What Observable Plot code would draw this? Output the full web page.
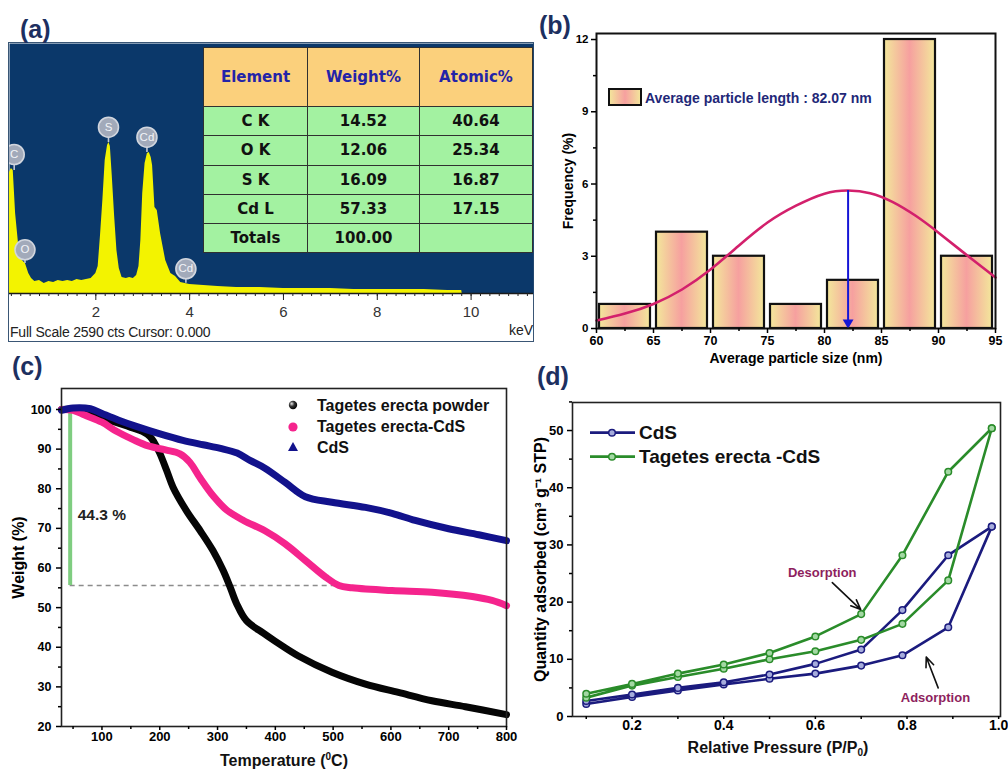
<!DOCTYPE html>
<html><head><meta charset="utf-8">
<script src="https://cdn.jsdelivr.net/npm/d3@7"></script>
<script src="https://cdn.jsdelivr.net/npm/@observablehq/plot@0.6"></script>
<style>
html,body{margin:0;padding:0;background:#fff;}
#root{position:relative;width:1008px;height:771px;overflow:hidden;background:#fff;font-family:"Liberation Sans",Arial,Helvetica,sans-serif;}
.pl{position:absolute;font-weight:bold;font-size:25px;line-height:25px;color:#1d2f60;white-space:nowrap;}
.lbl{position:absolute;font-weight:bold;white-space:nowrap;transform:translate(-50%,-50%);color:#111;}
</style></head><body><div id="root"></div><script>
// ================= DATA =================
// (a) EDS spectrum
const edsKeV = [0.16,0.2,0.24,0.29,0.36,0.43,0.5,0.57,0.63,0.7,0.8,0.9,1.0,1.1,1.2,1.3,1.4,1.5,1.6,1.7,1.8,1.9,2.0,2.05,2.1,2.15,2.2,2.25,2.28,2.31,2.35,2.4,2.45,2.5,2.56,2.65,2.72,2.8,2.87,2.92,2.96,3.0,3.05,3.1,3.14,3.18,3.21,3.26,3.31,3.38,3.49,3.6,3.7,3.81,4.0,4.3,4.6,5.0,5.5,6.0,6.5,7.0,7.5,8.0,8.5,9.0,9.5,9.8,9.81];
const edsCounts = [1254,1295,1274,829,477,342,311,207,155,124,135,104,124,114,135,124,135,124,145,135,145,155,207,280,601,963,1378,1533,1564,1523,1222,808,445,259,166,155,166,155,186,280,549,1036,1347,1450,1461,1409,1326,891,860,622,342,207,176,114,93,83,73,62,62,52,52,52,41,41,41,41,31,31,0];
const edsFullScale = 2590;
const edsMajorTicks = [2,4,6,8,10];
const peakNames = ["C","O","S","Cd","Cd"];
const peakKeV = [0.26,0.49,2.27,3.09,3.92];
const peakLabelCounts = [1440,453,1723,1619,256];
const peakTopCounts = [1274,311,1564,1461,107];
const tableHeader = ["Element","Weight%","Atomic%"];
const tableElements = ["C K","O K","S K","Cd L","Totals"];
const tableWeight = ["14.52","12.06","16.09","57.33","100.00"];
const tableAtomic = ["40.64","25.34","16.87","17.15",""];

// (b) particle size histogram
const binStart = [60,65,70,75,80,85,90];
const binEnd = [65,70,75,80,85,90,95];
const binFreq = [1,4,3,1,2,12,3];
const fitSize = [60,62.5,65,67.5,70,72.5,75,77.5,80,82.07,84,86,88,90,92.5,95];
const fitFreq = [0.33,0.62,1.02,1.62,2.45,3.45,4.4,5.1,5.6,5.73,5.62,5.25,4.68,3.98,3.04,2.12];
const meanSize = 82.07, meanFreq = 5.73;
const sizeTicks = [60,65,70,75,80,85,90,95];
const freqTicks = [0,3,6,9,12];
const legendB = "Average particle length : 82.07 nm";

// (c) TGA
const tempPowder = [30,50,80,100,130,150,170,183,190,200,212,223,246,270,292,310,322,333,350,380,400,440,498,556,613,671,729,800];
const weightPowder = [100,100,99.3,98.0,96.5,95.5,94.5,93.2,91.8,89,84.6,80.4,74.5,69.4,64.4,59.3,55.1,51,46.7,43.5,41.5,37.8,33.7,30.7,28.6,26.5,25.0,23.0];
const tempTECdS = [30,50,70,100,125,154,180,210,235,252,270,293,316,345,382,417,452,487,510,533,602,671,741,775,800];
const weightTECdS = [100,99.8,98.6,96.8,94.5,92.4,90.8,89.8,88.8,86.7,82.7,78.1,74.6,72.0,69.4,66.1,61.9,57.7,55.6,55.0,54.3,53.9,52.8,51.8,50.5];
const tempCdS = [30,50,80,100,129,158,199,240,275,305,334,357,382,417,452,498,556,602,642,700,752,800];
const weightCdS = [99.8,100.4,100.2,99.0,97.3,95.8,93.9,92.2,91.1,90.2,89.0,87.1,85.2,81.6,78.0,76.6,75.3,73.8,72.0,69.9,68.4,66.9];
const seriesNamesC = ["Tagetes erecta powder","Tagetes erecta-CdS","CdS"];
const seriesColorsC = ["#050505","#f5248d","#12128c"];
const lossTemp = 45, lossTop = 99.4, lossLevel = 55.6, lossLineEnd = 521;
const lossLabel = "44.3 %", lossLabelTemp = 58, lossLabelWeight = 73.3;
const tempTicks = [100,200,300,400,500,600,700,800];
const weightTicks = [20,30,40,50,60,70,80,90,100];

// (d) N2 isotherms
const pressure = [0.1,0.2,0.3,0.4,0.5,0.6,0.7,0.79,0.89,0.985];
const cdsAds = [2.2,3.4,4.55,5.6,6.6,7.5,8.9,10.7,15.6,33.2];
const cdsDes = [2.7,3.85,5.0,6.0,7.35,9.2,11.7,18.6,28.2,33.2];
const teAds = [3.3,5.4,6.9,8.35,10.0,11.4,13.4,16.2,23.8,50.4];
const teDes = [3.97,5.7,7.5,9.1,11.1,14.0,17.9,28.2,42.8,50.4];
const seriesNamesD = ["CdS","Tagetes erecta -CdS"];
const seriesColorsD = ["#1b1b7e","#2a8c2a"];
const markerFillD = ["#a6acdc","#a3d8a3"];
const pTicks = [0.2,0.4,0.6,0.8,1.0];
const qTicks = [0,10,20,30,40,50];
const desLabel = {p:0.615, q:25.2, text:"Desorption"};
const desArrow = {p1:0.637, q1:23.4, p2:0.699, q2:18.7};
const adsLabel = {p:0.862, q:3.2, text:"Adsorption"};
const adsArrow = {p1:0.868, q1:5.0, p2:0.842, q2:10.4};

// ================= LAYOUT HELPERS =================
const FONT = '"Liberation Sans", Arial, Helvetica, sans-serif';
const root = document.getElementById("root");
function place(el, left, top) {
  el.style.position = "absolute"; el.style.left = left + "px"; el.style.top = top + "px";
  root.appendChild(el); return el;
}
function fixSvg(svg) {
  svg.style.background = "transparent"; svg.style.overflow = "visible";
  svg.style.maxWidth = "none"; svg.style.fontFamily = FONT; svg.style.display = "block";
  return svg;
}
function html(content, left, top, cls, css) {
  const d = document.createElement("div"); d.className = cls || ""; d.innerHTML = content;
  if (css) d.style.cssText = css; return place(d, left, top);
}
const minor = (a, b, step) => d3.range(a, b + 1e-9, step);
const yTitle = (t, dx, size) => Plot.text([t], {frameAnchor: "left", textAnchor: "middle", lineAnchor: "middle", rotate: -90, dx, fontSize: size, fontWeight: "bold"});
const xTitle = (t, dy, size) => Plot.text([t], {frameAnchor: "bottom", textAnchor: "middle", lineAnchor: "middle", dy, fontSize: size, fontWeight: "bold"});

// ================= (a) =================
const edsData = edsKeV.map((k, i) => ({k, c: edsCounts[i]}));
const peaks = peakNames.map((n, i) => ({n, k: peakKeV[i], l: peakLabelCounts[i], t: peakTopCounts[i]}));
const plotA = fixSvg(Plot.plot({
  width: 524, height: 298, marginTop: 0, marginLeft: 0, marginRight: 0, marginBottom: 48,
  x: {domain: [0.16, 11.33]}, y: {domain: [0, edsFullScale], axis: null},
  marks: [
    Plot.frame({fill: "#0b386a", stroke: null}),
    Plot.areaY(edsData, {x: "k", y: "c", fill: "#f3f300"}),
    Plot.ruleX(peaks, {x: "k", y1: "l", y2: "t", stroke: "#c3c9d6", strokeWidth: 1.6}),
    Plot.dot(peaks, {x: "k", y: "l", r: 10, fill: "#a2aaba", stroke: "#d2d6de", strokeWidth: 1.6, clip: true}),
    Plot.text(peaks, {x: "k", y: "l", text: "n", fill: "#f2f4f8", fontSize: 11.5, clip: true}),
    Plot.ruleY([0], {stroke: "#1a1a1a", strokeWidth: 1.5}),
    Plot.axisX(minor(0.2, 11.2, 0.2), {tickSize: 3, tickFormat: () => "", label: null, stroke: "#222"}),
    Plot.axisX(edsMajorTicks, {tickSize: 7, tickPadding: 6, fontSize: 15, fill: "#333", label: null, stroke: "#222"})
  ]
}));
const boxA = document.createElement("div");
boxA.style.cssText = "width:524px;height:298px;border:1px solid #3a5675;";
boxA.appendChild(plotA);
place(boxA, 8, 42);
html("Full Scale 2590 cts Cursor: 0.000", 10, 324, "", "font-size:14px;line-height:16px;color:#222;white-space:nowrap;letter-spacing:-0.2px;");
html("keV", 509, 322, "", "font-size:14px;line-height:16px;color:#222;");

// table
const tbl = document.createElement("table");
tbl.style.cssText = `width:329px;height:206px;border-collapse:collapse;table-layout:fixed;font-family:"DejaVu Sans",Verdana,sans-serif;font-weight:bold;font-size:15px;`;
let th = `<colgroup><col style="width:104px"><col style="width:112px"><col style="width:113px"></colgroup>`;
th += `<tr style="height:59px;background:#fbd07c;color:#2424a8">` + tableHeader.map(h => `<td style="border:1.5px solid #303030;text-align:center;padding:0">${h}</td>`).join("") + `</tr>`;
tableElements.forEach((e, i) => {
  th += `<tr style="height:29px;background:#a3f2a1;color:#111">` + [e, tableWeight[i], tableAtomic[i]].map(v => `<td style="border:1.5px solid #303030;text-align:center;padding:0">${v}</td>`).join("") + `</tr>`;
});
tbl.innerHTML = th;
place(tbl, 203, 47);

// ================= (b) =================
const bins = binStart.map((a, i) => ({a, b: binEnd[i], f: binFreq[i]}));
const fit = fitSize.map((x, i) => ({x, y: fitFreq[i]}));
const GRAD_SENTINEL = "#abcdef";
const plotB = fixSvg(Plot.plot({
  width: 468, height: 372, marginLeft: 56, marginRight: 13, marginTop: 33, marginBottom: 44,
  x: {domain: [60, 95]}, y: {domain: [0, 12.25]},
  style: {fontWeight: "bold"},
  marks: [
    Plot.rectY(bins, {x1: "a", x2: "b", y: "f", fill: GRAD_SENTINEL, stroke: "#111", strokeWidth: 2.2, insetLeft: 3, insetRight: 3}),
    Plot.line(fit, {x: "x", y: "y", curve: "natural", stroke: "#d3206c", strokeWidth: 2.6}),
    Plot.ruleX([meanSize], {y1: meanFreq, y2: 0.3, stroke: "#1515d6", strokeWidth: 2}),
    Plot.dot([meanSize], {x: d => d, y: 0, symbol: "triangle", r: 4, rotate: 180, fill: "#1515d6", stroke: null, dy: -6}),
    Plot.frame({stroke: "#111", strokeWidth: 2}),
    Plot.axisY(freqTicks, {tickSize: 5, tickPadding: 3, fontSize: 11.5, fontWeight: "bold", label: null, strokeWidth: 1.5}),
    Plot.axisY(minor(1.5, 10.5, 3), {tickSize: 3, tickFormat: () => "", label: null, strokeWidth: 1.5}),
    Plot.axisX(sizeTicks, {tickSize: 5, tickPadding: 3, fontSize: 12.5, fontWeight: "bold", label: null, strokeWidth: 1.5}),
    Plot.axisX(minor(62.5, 92.5, 5), {tickSize: 3, tickFormat: () => "", label: null, strokeWidth: 1.5}),
    yTitle("Frequency (%)", -28, 14),
    xTitle("Average particle size (nm)", 30, 14)
  ]
}));
const gradEdge = "#f3e79b", gradMid = "#f6a09f";
const defsB = document.createElementNS("http://www.w3.org/2000/svg", "defs");
defsB.innerHTML = `<linearGradient id="barGrad" x1="0" x2="1" y1="0" y2="0"><stop offset="0" stop-color="${gradEdge}"/><stop offset="0.5" stop-color="${gradMid}"/><stop offset="1" stop-color="${gradEdge}"/></linearGradient>`;
plotB.insertBefore(defsB, plotB.firstChild);
plotB.querySelectorAll(`[fill="${GRAD_SENTINEL}"]`).forEach(el => el.setAttribute("fill", "url(#barGrad)"));
place(plotB, 540, 0);

// ================= (c) =================
const mk = (xs, ys) => xs.map((x, i) => ({x, y: ys[i]}));
const plotC = fixSvg(Plot.plot({
  width: 520, height: 401, marginLeft: 61, marginRight: 14, marginTop: 18, marginBottom: 45,
  x: {domain: [30, 800]}, y: {domain: [20, 105.3]},
  style: {fontWeight: "bold"},
  marks: [
    Plot.ruleY([lossLevel], {x1: lossTemp, x2: lossLineEnd, stroke: "#8c8c8c", strokeDasharray: "5,4", strokeWidth: 1.4}),
    Plot.ruleX([lossTemp], {y1: lossLevel, y2: lossTop, stroke: "#7fcd80", strokeWidth: 4}),
    Plot.line(mk(tempPowder, weightPowder), {x: "x", y: "y", curve: "catmull-rom", stroke: seriesColorsC[0], strokeWidth: 7}),
    Plot.line(mk(tempTECdS, weightTECdS), {x: "x", y: "y", curve: "catmull-rom", stroke: seriesColorsC[1], strokeWidth: 7}),
    Plot.line(mk(tempCdS, weightCdS), {x: "x", y: "y", curve: "catmull-rom", stroke: seriesColorsC[2], strokeWidth: 7}),
    Plot.text([lossLabel], {x: lossLabelTemp, y: lossLabelWeight, textAnchor: "start", fontSize: 15.5, fontWeight: "bold", fill: "#222"}),
    Plot.frame({stroke: "#222", strokeWidth: 1.6}),
    Plot.axisY(weightTicks, {tickSize: 5, tickPadding: 5, fontSize: 12.5, fontWeight: "bold", label: null, strokeWidth: 1.5}),
    Plot.axisY(minor(25, 95, 10), {tickSize: 3, tickFormat: () => "", label: null, strokeWidth: 1.5}),
    Plot.axisX(tempTicks, {tickSize: 4, tickPadding: 1, fontSize: 13, fontWeight: "bold", label: null, strokeWidth: 1.5}),
    Plot.axisX(minor(50, 750, 100), {tickSize: 3, tickFormat: () => "", label: null, strokeWidth: 1.5}),
    yTitle("Weight (%)", -43, 16)
  ]
}));
place(plotC, 0, 370);
html("Temperature (<sup style='font-size:10px;vertical-align:6px'>0</sup>C)", 284, 760, "lbl", "font-size:16px;");

// ================= (d) =================
const loop = (ads, des) => pressure.map((p, i) => ({p, q: ads[i]})).concat(pressure.slice().reverse().map((p, i) => ({p, q: des[des.length - 1 - i]})));
const loopCdS = loop(cdsAds, cdsDes), loopTE = loop(teAds, teDes);
const plotD = fixSvg(Plot.plot({
  width: 488, height: 411, marginLeft: 52, marginRight: 8, marginTop: 42, marginBottom: 55,
  x: {domain: [0.07, 1.004]}, y: {domain: [0, 54.9]},
  style: {fontWeight: "bold"},
  marks: [
    Plot.line(loopCdS, {x: "p", y: "q", stroke: seriesColorsD[0], strokeWidth: 2.6}),
    Plot.line(loopTE, {x: "p", y: "q", stroke: seriesColorsD[1], strokeWidth: 2.6}),
    Plot.dot(loopCdS, {x: "p", y: "q", r: 3.3, fill: markerFillD[0], stroke: seriesColorsD[0], strokeWidth: 1.5}),
    Plot.dot(loopTE, {x: "p", y: "q", r: 3.3, fill: markerFillD[1], stroke: seriesColorsD[1], strokeWidth: 1.5}),
    Plot.text([desLabel.text], {x: desLabel.p, y: desLabel.q, fill: "#8e1f5e", fontSize: 13, fontWeight: "bold"}),
    Plot.text([adsLabel.text], {x: adsLabel.p, y: adsLabel.q, fill: "#8e1f5e", fontSize: 13, fontWeight: "bold"}),
    Plot.arrow([desArrow], {x1: "p1", y1: "q1", x2: "p2", y2: "q2", stroke: "#111", strokeWidth: 1.6, headLength: 10, headAngle: 45}),
    Plot.arrow([adsArrow], {x1: "p1", y1: "q1", x2: "p2", y2: "q2", stroke: "#111", strokeWidth: 1.6, headLength: 10, headAngle: 45}),
    Plot.frame({stroke: "#222", strokeWidth: 1.6}),
    Plot.axisY(qTicks, {tickSize: 5, tickPadding: 4, fontSize: 13, fontWeight: "bold", label: null, strokeWidth: 1.5}),
    Plot.axisY(minor(5, 55, 10), {tickSize: 3, tickFormat: () => "", label: null, strokeWidth: 1.5}),
    Plot.axisX(pTicks, {tickSize: 3, tickPadding: 1, fontSize: 14, fontWeight: "bold", label: null, strokeWidth: 1.5, tickFormat: d3.format(".1f")}),
    Plot.axisX(minor(0.1, 0.9, 0.2), {tickSize: 3, tickFormat: () => "", label: null, strokeWidth: 1.5}),
    yTitle("Quantity adsorbed (cm³ g⁻¹ STP)", -32, 16)
  ]
}));
place(plotD, 520, 360);
html("Relative Pressure (P/P<sub style='font-size:10px;vertical-align:-3px'>0</sub>)", 778, 748, "lbl", "font-size:16px;");

// ================= overlay: legends =================
const ov = `<svg xmlns="http://www.w3.org/2000/svg" width="1008" height="771" style="position:absolute;left:0;top:0;overflow:visible;pointer-events:none;font-family:${FONT.replace(/"/g, "'")};font-weight:bold">
<defs>
<linearGradient id="swGrad" x1="0" x2="1" y1="0" y2="0"><stop offset="0" stop-color="${gradEdge}"/><stop offset="0.5" stop-color="${gradMid}"/><stop offset="1" stop-color="${gradEdge}"/></linearGradient>
<radialGradient id="sphere" cx="0.35" cy="0.35" r="0.7"><stop offset="0" stop-color="#e8e8e8"/><stop offset="0.45" stop-color="#333"/><stop offset="1" stop-color="#000"/></radialGradient>
</defs>
<rect x="609" y="89" width="32" height="16" fill="url(#swGrad)" stroke="#111" stroke-width="2"/>
<text x="645" y="98" dominant-baseline="central" font-size="14" fill="#1f2878">${legendB}</text>
<circle cx="293" cy="405" r="4.2" fill="url(#sphere)"/>
<circle cx="293" cy="427" r="4.6" fill="${seriesColorsC[1]}"/>
<path d="M293,442 L298,451 L288,451 Z" fill="${seriesColorsC[2]}"/>
${seriesNamesC.map((n, i) => `<text x="317" y="${405 + i * 21}" dominant-baseline="central" font-size="16" fill="#111">${n}</text>`).join("")}
${seriesNamesD.map((n, i) => `<line x1="590" x2="635" y1="${432.7 + i * 24}" y2="${432.7 + i * 24}" stroke="${seriesColorsD[i]}" stroke-width="2.8"/>
<circle cx="612" cy="${432.7 + i * 24}" r="3.3" fill="${markerFillD[i]}" stroke="${seriesColorsD[i]}" stroke-width="1.5"/>
<text x="639" y="${432.7 + i * 24}" dominant-baseline="central" font-size="19" fill="#111">${n}</text>`).join("")}
</svg>`;
const ovDiv = document.createElement("div"); ovDiv.innerHTML = ov; place(ovDiv, 0, 0);

// panel labels
html("(a)", 20, 17, "pl");
html("(b)", 539, 13, "pl");
html("(c)", 12, 354, "pl");
html("(d)", 537, 364, "pl");
</script></body></html>
